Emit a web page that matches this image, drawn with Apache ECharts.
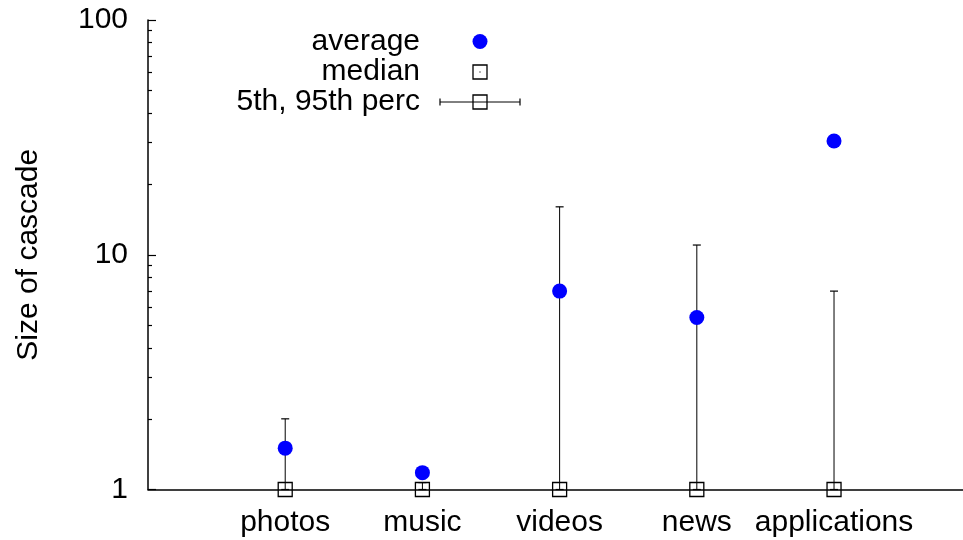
<!DOCTYPE html>
<html>
<head>
<meta charset="utf-8">
<script src="https://cdn.jsdelivr.net/npm/echarts@6/dist/echarts.min.js"></script>
<style>
  html, body { margin: 0; padding: 0; background: #fff; }
  #chart { width: 963px; height: 540px; }
</style>
</head>
<body>
<div id="chart"></div>
<script>
// Cascade size per content category (log scale)
const categories = ['photos', 'music', 'videos', 'news', 'applications'];
const average = [1.5, 1.18, 7.0, 5.4, 30.5];
const median = [1, 1, 1, 1, 1];
const perc5 = [1, 1, 1, 1, 1];
const perc95 = [2, 1.07, 16, 11, 7];
const yTicks = [1, 10, 100];
const yMinorTicks = [2, 3, 4, 5, 6, 7, 8, 9, 20, 30, 40, 50, 60, 70, 80, 90];
const legendLabels = ['average', 'median', '5th, 95th perc'];

const FONT = 'Liberation Sans, Arial, Helvetica, sans-serif';
const FS = 30;

const avgData = average.map((v, i) => [i + 1, v]);
const medData = median.map((v, i) => [i + 1, v]);
const errData = categories.map((c, i) => [i + 1, perc5[i], perc95[i]]);

const chart = echarts.init(document.getElementById('chart'), null, { renderer: 'canvas' });

chart.setOption({
  animation: false,
  backgroundColor: '#ffffff',
  grid: { left: 148, top: 20, width: 815, height: 469.5, containLabel: false },
  xAxis: {
    type: 'value',
    min: 0,
    max: 5.94,
    interval: 1,
    axisLine: { show: true, lineStyle: { color: '#000', width: 1.5 } },
    axisTick: { show: false },
    splitLine: { show: false },
    axisLabel: {
      margin: 18,
      color: '#000',
      fontFamily: FONT,
      fontSize: FS,
      showMaxLabel: false,
      formatter: v => (v >= 1 && v <= categories.length) ? categories[v - 1] : ''
    }
  },
  yAxis: [{
    type: 'log',
    logBase: 10,
    min: 1,
    max: 100,
    name: 'Size of cascade',
    nameLocation: 'middle',
    nameGap: 104,
    nameTextStyle: { color: '#000', fontFamily: FONT, fontSize: FS },
    axisLine: { show: true, lineStyle: { color: '#000', width: 1.5 } },
    axisTick: { show: true, inside: true, length: 8, lineStyle: { color: '#000', width: 1.2 }, customValues: yTicks },
    axisLabel: { margin: 20, color: '#000', fontFamily: FONT, fontSize: FS, customValues: yTicks },
    splitLine: { show: false }
  }, {
    type: 'log',
    logBase: 10,
    min: 1,
    max: 100,
    position: 'left',
    axisLine: { show: false },
    axisLabel: { show: false },
    splitLine: { show: false },
    axisTick: { show: true, inside: true, length: 4, lineStyle: { color: '#000', width: 1.2 }, customValues: yMinorTicks }
  }],
  series: [
    {
      name: '5th, 95th perc',
      type: 'custom',
      data: errData,
      encode: { x: 0, y: [1, 2] },
      clip: false,
      renderItem: (params, api) => {
        const x = api.value(0);
        const lo = api.coord([x, api.value(1)]);
        const hi = api.coord([x, api.value(2)]);
        const cap = 4;
        return {
          type: 'group',
          children: [
            { type: 'line', shape: { x1: lo[0], y1: lo[1], x2: hi[0], y2: hi[1] }, style: { stroke: '#000', lineWidth: 1 } },
            { type: 'line', shape: { x1: hi[0] - cap, y1: hi[1], x2: hi[0] + cap, y2: hi[1] }, style: { stroke: '#000', lineWidth: 1.2 } },
            { type: 'line', shape: { x1: lo[0] - cap, y1: lo[1], x2: lo[0] + cap, y2: lo[1] }, style: { stroke: '#000', lineWidth: 1.2 } }
          ]
        };
      }
    },
    {
      name: 'median',
      type: 'custom',
      data: medData,
      encode: { x: 0, y: 1 },
      clip: false,
      renderItem: (params, api) => {
        const p = api.coord([api.value(0), api.value(1)]);
        const h = 7;
        return {
          type: 'group',
          children: [
            { type: 'rect', shape: { x: p[0] - h, y: p[1] - h, width: 2 * h, height: 2 * h }, style: { fill: 'none', stroke: '#000', lineWidth: 1.3 } },
            { type: 'rect', shape: { x: p[0] - 0.6, y: p[1] - 0.6, width: 1.2, height: 1.2 }, style: { fill: '#000' } }
          ]
        };
      }
    },
    {
      name: 'average',
      type: 'scatter',
      data: avgData,
      symbol: 'circle',
      symbolSize: 15,
      itemStyle: { color: '#0000ff', opacity: 1 },
      clip: false,
      z: 5
    }
  ],
  graphic: [
    // key, top-left of the plot
    { type: 'text', style: { text: legendLabels[0], x: 420, y: 42, align: 'right', verticalAlign: 'middle', font: FS + 'px ' + FONT, fill: '#000' } },
    { type: 'text', style: { text: legendLabels[1], x: 420, y: 72, align: 'right', verticalAlign: 'middle', font: FS + 'px ' + FONT, fill: '#000' } },
    { type: 'text', style: { text: legendLabels[2], x: 420, y: 102, align: 'right', verticalAlign: 'middle', font: FS + 'px ' + FONT, fill: '#000' } },
    { type: 'circle', shape: { cx: 480, cy: 41.5, r: 7.5 }, style: { fill: '#0000ff' } },
    { type: 'rect', shape: { x: 473, y: 65, width: 14, height: 14 }, style: { fill: 'none', stroke: '#000', lineWidth: 1.3 } },
    { type: 'rect', shape: { x: 479.4, y: 71.4, width: 1.2, height: 1.2 }, style: { fill: '#000' } },
    { type: 'line', shape: { x1: 440, y1: 102, x2: 520, y2: 102 }, style: { stroke: '#000', lineWidth: 1 } },
    { type: 'line', shape: { x1: 440, y1: 98.5, x2: 440, y2: 105.5 }, style: { stroke: '#000', lineWidth: 1.2 } },
    { type: 'line', shape: { x1: 520, y1: 98.5, x2: 520, y2: 105.5 }, style: { stroke: '#000', lineWidth: 1.2 } },
    { type: 'rect', shape: { x: 473, y: 95, width: 14, height: 14 }, style: { fill: 'none', stroke: '#000', lineWidth: 1.3 } }
  ]
});
</script>
</body>
</html>
